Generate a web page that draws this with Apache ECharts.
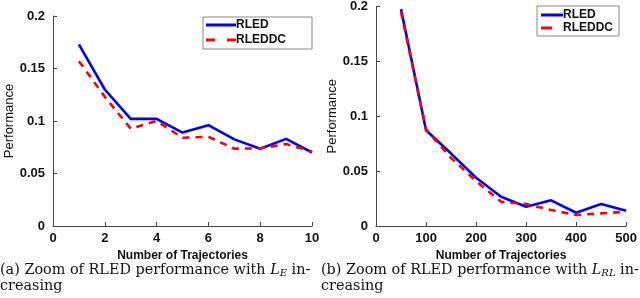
<!DOCTYPE html>
<html>
<head>
<meta charset="utf-8">
<script src="https://cdn.jsdelivr.net/npm/echarts@6/dist/echarts.min.js"></script>
<style>
html,body{margin:0;padding:0;background:#fff;}
#main{width:640px;height:298px;}
</style>
</head>
<body>
<div id="main"></div>
<script>
// Left panel: L_E increasing
const xLeft = [1, 2, 3, 4, 5, 6, 7, 8, 9, 10];
const rledLeft = [0.173, 0.130, 0.102, 0.102, 0.089, 0.096, 0.0825, 0.0736, 0.083, 0.070];
const rleddcLeft = [0.157, 0.123, 0.0927, 0.100, 0.084, 0.085, 0.0736, 0.074, 0.078, 0.071];
// Right panel: L_RL increasing
const xRight = [50, 100, 150, 200, 250, 300, 350, 400, 450, 500];
const rledRight = [0.1976, 0.0873, 0.066, 0.044, 0.0267, 0.0176, 0.0234, 0.0121, 0.020, 0.014];
const rleddcRight = [0.195, 0.088, 0.062, 0.041, 0.022, 0.020, 0.0145, 0.010, 0.0115, 0.013];
const yTicks = [0, 0.05, 0.1, 0.15, 0.2];
const xLabelName = 'Number of Trajectories';
const yLabelName = 'Performance';
const seriesNames = ['RLED', 'RLEDDC'];
const captionA = ['(a) Zoom of RLED performance with ', 'L', 'E', ' in-', 'creasing'];
const captionB = ['(b) Zoom of RLED performance with ', 'L', 'RL', ' in-', 'creasing'];

const chart = echarts.init(document.getElementById('main'), null, {renderer: 'canvas'});
const sans = 'Liberation Sans';
const serif = 'DejaVu Serif';
const axisCol = '#444';

function pairs(xs, ys) { return xs.map((x, i) => [x, ys[i]]); }

function xAxis(gi, max, interval) {
  return {
    type: 'value', gridIndex: gi, min: 0, max: max, interval: interval,
    name: xLabelName, nameLocation: 'middle', nameGap: 22,
    nameTextStyle: {fontFamily: sans, fontWeight: 'bold', fontSize: 12, color: '#111'},
    axisLine: {show: true, lineStyle: {color: axisCol, width: 1}},
    axisTick: {show: true, inside: true, length: 4, lineStyle: {color: axisCol}},
    axisLabel: {fontFamily: sans, fontWeight: 'bold', fontSize: 13, color: '#111', margin: 6,
      formatter: v => String(v)},
    splitLine: {show: false}
  };
}
function yAxis(gi) {
  return {
    type: 'value', gridIndex: gi, min: 0, max: 0.2, interval: 0.05,
    name: yLabelName, nameLocation: 'middle', nameGap: 36,
    nameTextStyle: {fontFamily: sans, fontWeight: 'normal', fontSize: 13, color: '#111'},
    axisLine: {show: true, lineStyle: {color: axisCol, width: 1}},
    axisTick: {show: true, inside: true, length: 4, lineStyle: {color: axisCol}},
    axisLabel: {fontFamily: sans, fontWeight: 'bold', fontSize: 13, color: '#111', margin: 8,
      formatter: v => (yTicks.includes(+v.toFixed(2)) ? String(+v.toFixed(2)) : '')},
    splitLine: {show: false}
  };
}
function line(name, gi, data, dashed) {
  return {
    name: name, type: 'line', xAxisIndex: gi, yAxisIndex: gi, data: data,
    symbol: 'none', showSymbol: false, animation: false,
    lineStyle: {color: dashed ? '#ff0000' : '#0000ff', width: 2.6, type: dashed ? [7, 6] : 'solid'},
    itemStyle: {color: dashed ? '#ff0000' : '#0000ff'},
    z: dashed ? 3 : 2
  };
}
function legend(left, top, iw, gap, pad, solidIcon, dashIcon) {
  return {
    show: true, orient: 'vertical', left: left, top: top,
    data: [
      {name: seriesNames[0], icon: solidIcon, itemStyle: {color: '#0000ff'}},
      {name: seriesNames[1], icon: dashIcon, itemStyle: {color: '#ff0000'}}
    ],
    itemWidth: iw, itemHeight: 3, itemGap: gap,
    padding: pad,
    borderColor: '#888', borderWidth: 1, backgroundColor: '#fff',
    textStyle: {fontFamily: sans, fontWeight: 'bold', fontSize: 12, color: '#111', padding: [0, 0, 0, -5], lineHeight: 12},
    selectedMode: false
  };
}
const rich = {
  n: {fontFamily: serif, fontWeight: 'normal', fontSize: 14.4, color: '#111', lineHeight: 16},
  i: {fontFamily: serif, fontWeight: 'normal', fontStyle: 'italic', fontSize: 14.4, color: '#111', lineHeight: 16},
  s: {fontFamily: serif, fontWeight: 'normal', fontStyle: 'italic', fontSize: 10, color: '#111', lineHeight: 16, padding: [6, 0, 0, 0]}
};
function cap(parts) {
  return '{n|' + parts[0] + '}{i|' + parts[1] + '}{s|' + parts[2] + '}{n|' + parts[3] + '}\n{n|' + parts[4] + '}';
}

chart.setOption({
  animation: false,
  grid: [
    {left: 53, top: 16, width: 259, height: 210},
    {left: 376, top: 6, width: 256, height: 220}
  ],
  xAxis: [xAxis(0, 10, 2), xAxis(1, 500, 100)],
  yAxis: [yAxis(0), yAxis(1)],
  legend: [
    legend(203, 17, 30, 3, [2, 26, 3, 3], 'path://M0,0H30V3H0Z', 'path://M0,0H9V3H0Z M21,0H30V3H21Z'),
    legend(537, 6, 22, 1, [3, 6, 2, 4], 'path://M0,0H22V3H0Z', 'path://M0,0H11V3H0Z M21.9,0H22V3H21.9Z')
  ],
  title: [
    {text: cap(captionA), left: 0, top: 262, padding: 0, textStyle: {fontWeight: 'normal', rich: rich}},
    {text: cap(captionB), left: 321, top: 262, padding: 0, textStyle: {fontWeight: 'normal', rich: rich}}
  ],
  series: [
    line(seriesNames[0], 0, pairs(xLeft, rledLeft), false),
    line(seriesNames[1], 0, pairs(xLeft, rleddcLeft), true),
    line(seriesNames[0], 1, pairs(xRight, rledRight), false),
    line(seriesNames[1], 1, pairs(xRight, rleddcRight), true)
  ]
});
</script>
</body>
</html>
